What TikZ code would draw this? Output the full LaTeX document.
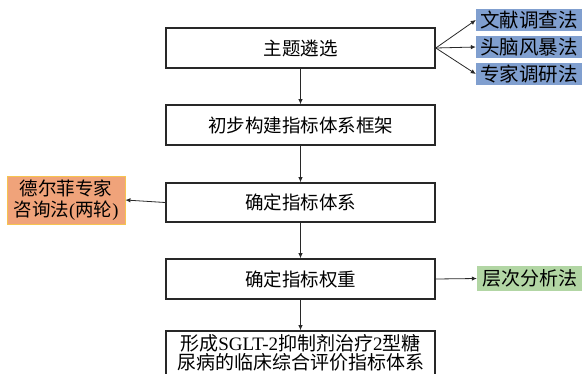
\documentclass[tikz,border=0pt]{standalone}
\usepackage{fontspec}
\setmainfont{Liberation Serif}
\newfontfamily\cjk{Noto Sans CJK SC}
\usetikzlibrary{arrows.meta}
\definecolor{bluefill}{RGB}{128,159,207}
\definecolor{orangefill}{RGB}{240,163,122}
\definecolor{orangeline}{RGB}{246,196,80}
\definecolor{greenfill}{RGB}{178,214,164}
\definecolor{boxline}{RGB}{40,40,40}
\tikzset{
  mainbox/.style={draw=boxline, line width=1.6pt, fill=white, minimum width=269pt,
    inner sep=0pt, align=center, font=\fontsize{18.5}{20}\selectfont\cjk},
  bluebox/.style={fill=bluefill, minimum width=106pt, minimum height=22pt, inner sep=0pt,
    font=\fontsize{19.5}{20}\selectfont\cjk},
  orangebox/.style={fill=orangefill, draw=orangeline, line width=0.8pt, minimum width=118pt,
    minimum height=48pt, inner sep=0pt, align=center, font=\fontsize{18.5}{21}\selectfont\cjk},
  greenbox/.style={fill=greenfill, minimum width=105pt, minimum height=25pt, inner sep=0pt,
    font=\fontsize{19}{20}\selectfont\cjk},
  arr/.style={draw=boxline, line width=0.8pt, -{Latex[length=5pt,width=4.5pt]}}
}
\begin{document}
\begin{tikzpicture}[x=1pt,y=-1pt]
\useasboundingbox (0,0) rectangle (584,373);
\fill[white] (0,0) rectangle (584,373);
\node[mainbox, minimum height=40pt] (b1) at (300.5,48) {主题遴选};
\node[mainbox, minimum height=40pt] (b2) at (300.5,125) {初步构建指标体系框架};
\node[mainbox, minimum height=39pt] (b3) at (300.5,202.5) {确定指标体系};
\node[mainbox, minimum height=40pt] (b4) at (300.5,279) {确定指标权重};
\node[mainbox, minimum height=44pt, font=\fontsize{19}{19.5}\selectfont\cjk] (b5) at (300.5,353)
  {形成{\rmfamily SGLT-2}抑制剂治疗{\rmfamily 2}型糖\\尿病的临床综合评价指标体系};
\node[bluebox] (m1) at (529,20) {文献调查法};
\node[bluebox] (m2) at (529,47) {头脑风暴法};
\node[bluebox] (m3) at (529,74) {专家调研法};
\node[orangebox] (d) at (66,200) {德尔菲专家\\咨询法{\rmfamily (}两轮{\rmfamily )}};
\node[greenbox] (g) at (529.5,278.5) {层次分析法};
\draw[arr] (b1.east) -- (m1.west);
\draw[arr] (b1.east) -- (m2.west);
\draw[arr] (b1.east) -- (m3.west);
\draw[arr] (b1.south) -- (b2.north);
\draw[arr] (b2.south) -- (b3.north);
\draw[arr] (b3.south) -- (b4.north);
\draw[arr] (b4.south) -- (b5.north);
\draw[arr] (b3.west) -- (d.east);
\draw[arr] (b4.east) -- (g.west);
\end{tikzpicture}
\end{document}
